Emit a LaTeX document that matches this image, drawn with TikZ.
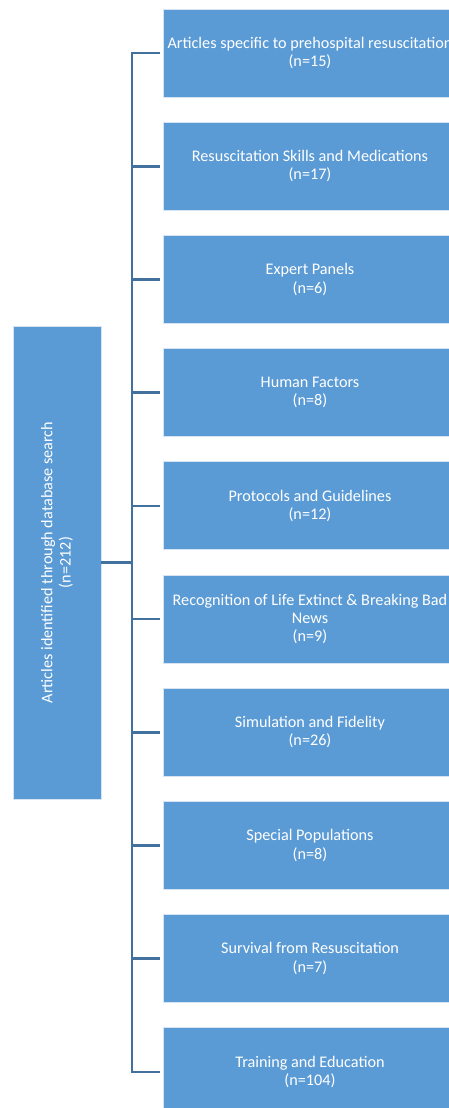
\documentclass[tikz,border=0pt]{standalone}
\usepackage{fontspec}
\setmainfont{Carlito}
\definecolor{boxfill}{HTML}{5B9BD5}
\definecolor{boxedge}{HTML}{D6E4F3}
\definecolor{linkcol}{HTML}{41719C}
\begin{document}
\begin{tikzpicture}[x=1pt,y=-1pt,
  boxfont/.style={font=\fontsize{16.2pt}{18.3pt}\selectfont},
  catbox/.style={rectangle, fill=boxfill, draw=boxedge, line width=0.8pt,
    minimum width=294pt, minimum height=88pt, inner sep=0pt,
    text=white, align=center, boxfont},
  srcbox/.style={rectangle, fill=boxfill, draw=boxedge, line width=0.8pt,
    minimum width=88pt, minimum height=473pt, inner sep=0pt},
  link/.style={draw=linkcol, line width=2.6pt, line join=miter, line cap=butt}]
\useasboundingbox (0,0) rectangle (449,1108);

% source box with rotated label
\node[srcbox] (src) at (57,562.5) {};
\node[text=white, align=center, rotate=90, boxfont] (srclbl) at (src.center)
  {Articles identified through database search\\(n=212)};

% category boxes
\node[catbox] (c1)  at (310,53)     {Articles specific to prehospital resuscitation\\(n=15)};
\node[catbox] (c2)  at (310,166.2)  {Resuscitation Skills and Medications\\(n=17)};
\node[catbox] (c3)  at (310,279.4)  {Expert Panels\\(n=6)};
\node[catbox] (c4)  at (310,392.6)  {Human Factors\\(n=8)};
\node[catbox] (c5)  at (310,505.8)  {Protocols and Guidelines\\(n=12)};
\node[catbox] (c6)  at (310,619)    {Recognition of Life Extinct \& Breaking Bad\\News\\(n=9)};
\node[catbox] (c7)  at (310,732.2)  {Simulation and Fidelity\\(n=26)};
\node[catbox] (c8)  at (310,845.4)  {Special Populations\\(n=8)};
\node[catbox] (c9)  at (310,958.6)  {Survival from Resuscitation\\(n=7)};
\node[catbox] (c10) at (310,1071.8) {Training and Education\\(n=104)};

% tree connectors
\coordinate (hub) at (132,562.5);
\draw[link] (src.east) -- (hub);
\draw[link] ([xshift=-3pt]c1.west) -| (hub) |- ([xshift=-3pt]c10.west);
\foreach \i in {2,...,9}
  \draw[link] (hub |- c\i.west) -- ([xshift=-3pt]c\i.west);
\end{tikzpicture}
\end{document}
